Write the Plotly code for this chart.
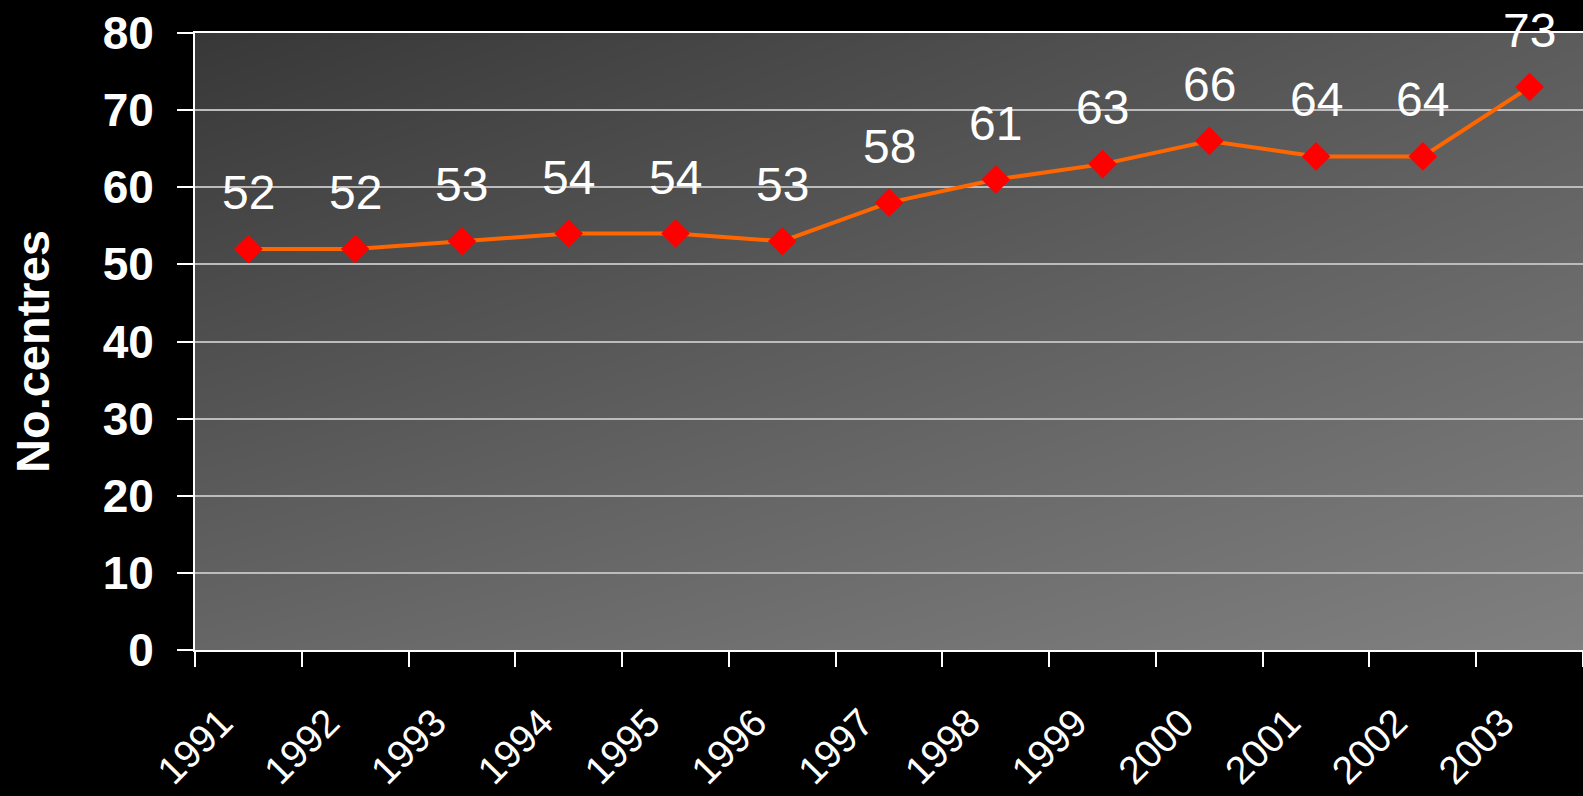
import zlib, struct, base64
import plotly.graph_objects as go

years = ['1991', '1992', '1993', '1994', '1995', '1996', '1997',
         '1998', '1999', '2000', '2001', '2002', '2003']
centres = [52, 52, 53, 54, 54, 53, 58, 61, 63, 66, 64, 64, 73]
y_ticks = [0, 10, 20, 30, 40, 50, 60, 70, 80]
y_title = 'No.centres'

FONT = 'Liberation Sans, Arial, sans-serif'


def gradient_png(w, h):
    # diagonal gray gradient: dark top-left -> light bottom-right
    tl, tr, bl, br = 56, 92, 102, 128
    raw = bytearray()
    for j in range(h):
        v = j / (h - 1)
        raw.append(0)
        for i in range(w):
            u = i / (w - 1)
            val = tl * (1 - u) * (1 - v) + tr * u * (1 - v) + bl * (1 - u) * v + br * u * v
            raw.append(int(round(val)))

    def chunk(t, d):
        c = struct.pack('>I', len(d)) + t + d
        return c + struct.pack('>I', zlib.crc32(t + d) & 0xffffffff)

    ihdr = struct.pack('>IIBBBBB', w, h, 8, 0, 0, 0, 0)
    png = (b'\x89PNG\r\n\x1a\n' + chunk(b'IHDR', ihdr)
           + chunk(b'IDAT', zlib.compress(bytes(raw), 9)) + chunk(b'IEND', b''))
    return 'data:image/png;base64,' + base64.b64encode(png).decode()


fig = go.Figure()
fig.add_trace(go.Scatter(
    x=years, y=centres, mode='lines+markers',
    line=dict(color='#FF6600', width=4),
    marker=dict(symbol='diamond', size=22, color='#FF0000', line=dict(width=0)),
    hoverinfo='x+y', showlegend=False,
))

annotations = []
for i, v in enumerate(centres):
    annotations.append(dict(
        x=i, y=v, xref='x', yref='y', text=str(v), showarrow=False,
        yanchor='bottom', xanchor='center', yshift=28,
        font=dict(family=FONT, size=48, color='white'),
    ))
annotations.append(dict(
    x=-0.1167, y=0.483, xref='paper', yref='paper', text=y_title,
    showarrow=False, textangle=-90, xanchor='center', yanchor='middle',
    font=dict(family=FONT, size=47, color='white', weight='bold'),
))

fig.update_layout(
    width=1583, height=796,
    margin=dict(l=195, r=0, t=33, b=146, autoexpand=False),
    paper_bgcolor='black', plot_bgcolor='#555555',
    font=dict(family=FONT, color='white'),
    annotations=annotations,
    images=[dict(
        source=gradient_png(347, 154), xref='paper', yref='paper',
        x=0, y=1, sizex=1, sizey=1, xanchor='left', yanchor='top',
        sizing='stretch', layer='below',
    )],
    xaxis=dict(
        type='category', range=[-0.5, 12.5], tickson='boundaries',
        ticks='outside', ticklen=15, tickwidth=2, tickcolor='white',
        showgrid=False, showline=True, linecolor='white', linewidth=2,
        mirror=True, tickangle=-45, automargin=False,
        ticklabelstandoff=32, ticklabelshift=-27,
        tickfont=dict(family=FONT, size=39, color='white'),
        fixedrange=True,
    ),
    yaxis=dict(
        range=[0, 80], tickvals=y_ticks, ticks='outside', ticklen=16,
        tickwidth=2, tickcolor='white', showline=True, linecolor='white',
        linewidth=2, showgrid=True, gridcolor='#bcbcbc', gridwidth=2,
        zeroline=False, ticklabelstandoff=14, automargin=False,
        tickfont=dict(family=FONT, size=46, color='white', weight='bold'),
        fixedrange=True,
    ),
)

fig.write_html(
    'out.html', config={'displayModeBar': False},
    post_script="document.body.style.margin='0';document.body.style.overflow='hidden';document.body.style.background='black';",
)
